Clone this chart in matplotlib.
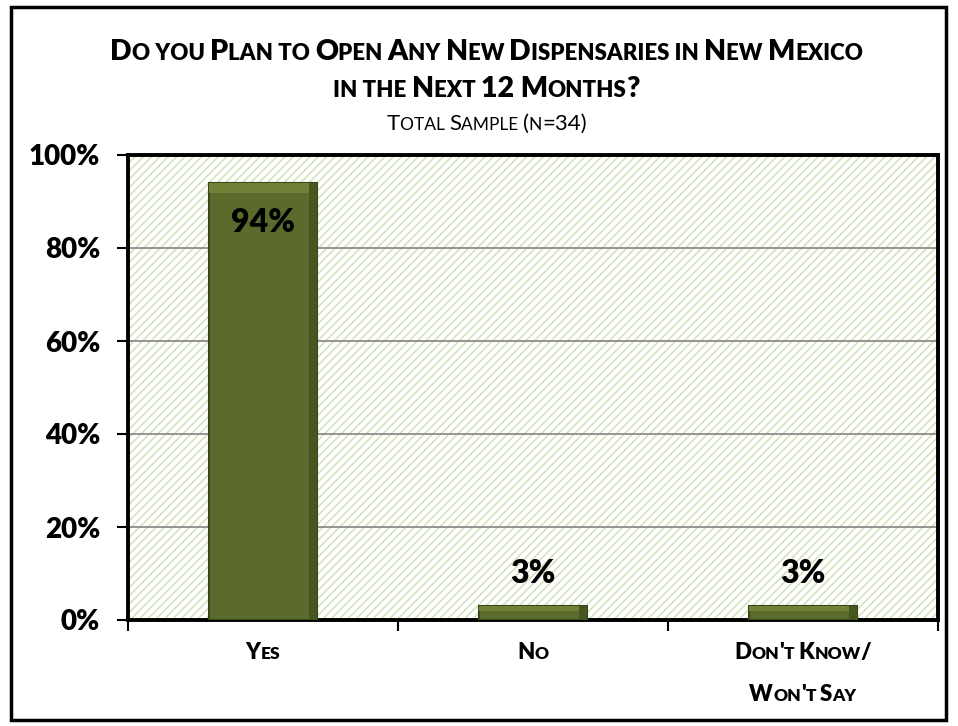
import matplotlib
matplotlib.use("Agg")
import matplotlib.pyplot as plt
from matplotlib.patches import Rectangle
from matplotlib.offsetbox import TextArea, HPacker, VPacker, AnnotationBbox

categories = ["Yes", "No", "Don't Know/\nWon't Say"]
values = [94, 3, 3]
value_labels = ["94%", "3%", "3%"]
yticks = [0, 20, 40, 60, 80, 100]
ytick_labels = ["0%", "20%", "40%", "60%", "80%", "100%"]
title_lines = ["Do you Plan to Open Any New Dispensaries in New Mexico", "in the Next 12 Months?"]
subtitle = "Total Sample (n=34)"

FONT = "Lato"
BOLD = "heavy"
plt.rcParams["font.family"] = [FONT, "DejaVu Sans"]
plt.rcParams["hatch.linewidth"] = 1.1

W, H = 958, 726
fig = plt.figure(figsize=(W / 100, H / 100), dpi=100)
fig.patch.set_facecolor("white")
# outer border
fig.add_artist(Rectangle((11 / W, 6 / H), (946 - 11) / W, (719 - 6) / H, transform=fig.transFigure,
                         fill=False, edgecolor="black", linewidth=2.5))

left, right, top, bottom = 128, 938, 155, 620
ax = fig.add_axes([left / W, 1 - bottom / H, (right - left) / W, (bottom - top) / H])
ax.set_facecolor("white")
ax.add_patch(Rectangle((0, 0), 1, 1, transform=ax.transAxes, facecolor="white",
                       edgecolor="#d2e1b9", linewidth=0, hatch="////", zorder=0))

x = list(range(len(categories)))
ax.set_xlim(-0.5, len(categories) - 0.5)
ax.set_ylim(0, 100)
ax.yaxis.grid(True, color="#8c8c8c", linewidth=1.3, zorder=1)
ax.set_axisbelow(True)

bars = ax.bar(x, values, width=0.4, color="#5a6b2c", edgecolor="#3a4519", linewidth=1.5, zorder=3)
# bevel highlight
for b in bars:
    bx, by, bw, bh = b.get_x(), b.get_y(), b.get_width(), b.get_height()
    hh = min(2.2, bh * 0.35)
    ax.add_patch(Rectangle((bx, by + bh - hh), bw, hh, facecolor="#6f8238", edgecolor="none", zorder=4))
    ax.add_patch(Rectangle((bx + bw * 0.93, by), bw * 0.07, bh, facecolor="#46561f", edgecolor="none", zorder=4))

for xi, v, lab in zip(x, values, value_labels):
    if v > 50:
        ax.text(xi, v - 8.5, lab, ha="center", va="center", fontsize=23, fontweight=BOLD, zorder=5)
    else:
        ax.text(xi, v + 7, lab, ha="center", va="center", fontsize=23, fontweight=BOLD, zorder=5)

ax.set_yticks(yticks)
ax.set_yticklabels(ytick_labels, fontsize=20, fontweight=BOLD)
ax.tick_params(axis="y", length=8, width=1.5, pad=12, direction="out")
ax.set_xticks([-0.5 + i for i in range(len(categories) + 1)])
ax.set_xticklabels([])
ax.tick_params(axis="x", length=8, width=1.5, direction="out")
for s in ax.spines.values():
    s.set_linewidth(2.8)
    s.set_color("black")


def smallcaps_box(text, big, small, weight=BOLD):
    runs = []
    cur, cur_small = "", None
    for ch in text:
        is_small = ch.islower()
        if cur_small is None or is_small == cur_small or ch == " ":
            if cur_small is None:
                cur_small = is_small
            cur += ch
        else:
            runs.append((cur, cur_small))
            cur, cur_small = ch, is_small
    if cur:
        runs.append((cur, cur_small))
    items = []
    for t, sm in runs:
        items.append(TextArea(t.upper(), textprops=dict(fontsize=small if sm else big, fontweight=weight,
                                                        family=[FONT, "DejaVu Sans"])))
    return HPacker(children=items, align="baseline", pad=0, sep=0)


def place(box, xfig, yfig):
    ab = AnnotationBbox(box, (xfig, yfig), xycoords="figure fraction", frameon=False,
                        box_alignment=(0.5, 0.5), pad=0)
    fig.add_artist(ab)


cx = 0.5 * (113 + 860) / W
place(smallcaps_box(title_lines[0], 20.5, 16), cx, 1 - 52 / H)
place(smallcaps_box(title_lines[1], 20.5, 16), cx, 1 - 89 / H)
place(smallcaps_box(subtitle, 16, 12.5, weight="normal"), cx, 1 - 124 / H)

for xi, cat in zip(x, categories):
    lines = cat.split("\n")
    children = [smallcaps_box(l, 16, 12.5) for l in lines]
    vb = VPacker(children=children, align="center", pad=0, sep=15)
    ab = AnnotationBbox(vb, (xi, 0), xycoords=("data", "axes fraction"), xybox=(0, -16),
                        boxcoords="offset points", frameon=False, box_alignment=(0.5, 1.0), pad=0)
    ax.add_artist(ab)

fig.savefig("out.png", dpi=100)
